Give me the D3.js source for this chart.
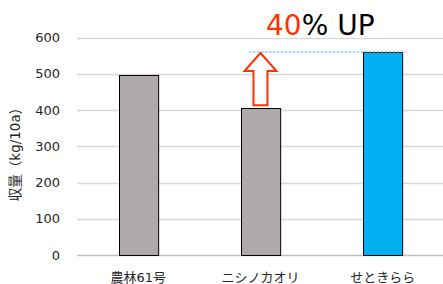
<!DOCTYPE html>
<html>
<head>
<meta charset="utf-8">
<script src="https://cdn.jsdelivr.net/npm/d3@7"></script>
<style>
  body { margin: 0; background: #fff; }
  text { font-family: "DejaVu Sans", "Noto Sans CJK JP", sans-serif; }
</style>
</head>
<body>
<svg width="443" height="284"></svg>
<script>
// data
const varieties = ["農林61号", "ニシノカオリ", "せときらら"];
const yields = [497, 405, 560];
const barColors = ["#AEAAAA", "#AEAAAA", "#00B0F0"];
const yTicks = [0, 100, 200, 300, 400, 500, 600];

const svg = d3.select("svg");
const margin = { top: 37.5, right: 0, bottom: 29, left: 77 };
const width = +svg.attr("width");
const height = +svg.attr("height");

const x = d3.scaleBand()
  .domain(varieties)
  .range([margin.left, width + 1])
  .paddingInner(0.68)
  .paddingOuter(0.34);

const y = d3.scaleLinear()
  .domain([0, 600])
  .range([height - margin.bottom, margin.top]);

// gridlines
svg.append("g")
  .selectAll("line")
  .data(yTicks)
  .join("line")
  .attr("x1", margin.left)
  .attr("x2", width)
  .attr("y1", d => Math.round(y(d)) + 0.5)
  .attr("y2", d => Math.round(y(d)) + 0.5)
  .attr("stroke", d => d === 0 ? "#BFBFBF" : "#D9D9D9")
  .attr("stroke-width", 1.5);

// y tick labels
svg.append("g")
  .selectAll("text")
  .data(yTicks)
  .join("text")
  .attr("x", 60)
  .attr("y", d => y(d) + 4.5)
  .attr("text-anchor", "end")
  .attr("font-size", 13)
  .attr("fill", "#262626")
  .text(d => d);

// y axis title
svg.append("text")
  .attr("transform", "translate(20,151) rotate(-90)")
  .attr("text-anchor", "middle")
  .attr("font-size", 13.5)
  .attr("fill", "#262626")
  .text("収量（kg/10a）");

// bars
svg.append("g")
  .selectAll("rect")
  .data(yields)
  .join("rect")
  .attr("x", (d, i) => Math.round(x(varieties[i])) + 0.5)
  .attr("y", d => Math.round(y(d)) + 0.5)
  .attr("width", x.bandwidth())
  .attr("height", d => Math.round(y(0)) - Math.round(y(d)))
  .attr("fill", (d, i) => barColors[i])
  .attr("stroke", "#000")
  .attr("stroke-width", 1);

// x labels
svg.append("g")
  .selectAll("text")
  .data(varieties)
  .join("text")
  .attr("x", d => x(d) + x.bandwidth() / 2)
  .attr("y", 281.5)
  .attr("text-anchor", "middle")
  .attr("font-size", 13)
  .attr("fill", "#262626")
  .text(d => d);

// dashed reference at the top of the last bar
svg.append("line")
  .attr("x1", x(varieties[1]) + 8)
  .attr("x2", x(varieties[2]) + x.bandwidth() + 4)
  .attr("y1", y(yields[2]))
  .attr("y2", y(yields[2]))
  .attr("stroke", "#3FB5E8")
  .attr("stroke-width", 1.2)
  .attr("stroke-dasharray", "2.5,1.5");

// block arrow from the second bar up to the dashed line
const cx = x(varieties[1]) + x.bandwidth() / 2;
const tipY = y(yields[2]) + 1;
const headY = tipY + 18;
const baseY = y(yields[1]) - 3;
const arrow = [
  [cx, tipY], [cx + 16, headY], [cx + 7, headY], [cx + 7, baseY],
  [cx - 7, baseY], [cx - 7, headY], [cx - 16, headY]
];
svg.append("path")
  .attr("d", d3.line()(arrow) + "Z")
  .attr("fill", "#fff")
  .attr("stroke", "#FF3300")
  .attr("stroke-width", 2);

// headline
const head = svg.append("text")
  .attr("x", 266)
  .attr("y", 35)
  .attr("font-size", 28);
head.append("tspan").attr("fill", "#FF3300").text("40");
head.append("tspan").attr("fill", "#000").text("% UP");
</script>
</body>
</html>
